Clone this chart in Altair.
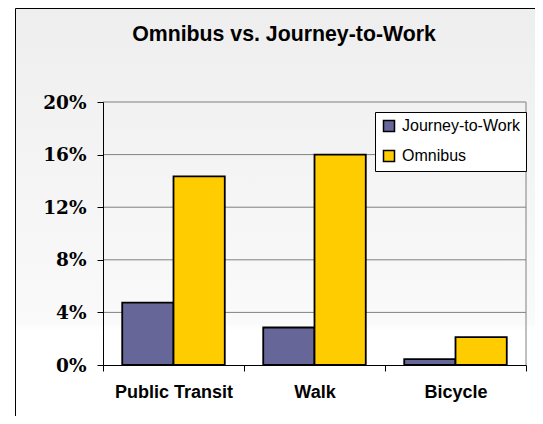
import altair as alt
import pandas as pd

title_text = "Omnibus vs. Journey-to-Work"
categories = ["Public Transit", "Walk", "Bicycle"]
series = ["Journey-to-Work", "Omnibus"]
journey = [4.75, 2.85, 0.45]
omnibus = [14.35, 16.0, 2.12]
colors = ["#666699", "#FFCC00"]
yticks = [0, 4, 8, 12, 16, 20]
grid_ticks = [4, 8, 12, 16, 20]

rows = []
for c, j, o in zip(categories, journey, omnibus):
    rows.append({"category": c, "series": series[0], "value": j})
    rows.append({"category": c, "series": series[1], "value": o})
df = pd.DataFrame(rows)

W, H = 423, 263

background = alt.Chart(pd.DataFrame({"a": [0]})).mark_rect(
    stroke="black",
    strokeWidth=1,
    color=alt.Gradient(
        gradient="linear",
        x1=0, x2=0, y1=0, y2=1,
        stops=[
            alt.GradientStop(color="#eeeeee", offset=0),
            alt.GradientStop(color="#fafafa", offset=0.76),
            alt.GradientStop(color="#ffffff", offset=0.78),
            alt.GradientStop(color="#ffffff", offset=1),
        ],
    ),
).encode(
    x=alt.value(-87.5), x2=alt.value(800), y=alt.value(-93.5), y2=alt.value(320)
)

title = alt.Chart(pd.DataFrame({"t": [title_text]})).mark_text(
    font="Liberation Sans",
    fontSize=21.3,
    fontWeight="bold",
    color="black",
    align="center",
    baseline="alphabetic",
).encode(text="t:N", x=alt.value(181), y=alt.value(-61))

grid = alt.Chart(pd.DataFrame({"t": grid_ticks})).mark_rule(
    color="#808080", strokeWidth=1
).encode(y=alt.Y("t:Q"))

right_edge = alt.Chart(pd.DataFrame({"a": [0]})).mark_rule(
    color="#808080", strokeWidth=1
).encode(x=alt.value(W), y=alt.value(0), y2=alt.value(H))

bars = alt.Chart(df).mark_bar(stroke="black", strokeWidth=1.8).encode(
    x=alt.X(
        "category:N",
        sort=categories,
        scale=alt.Scale(paddingInner=0, paddingOuter=0),
        axis=alt.Axis(
            title=None,
            labelAngle=0,
            tickBand="extent",
            domainColor="black",
            tickColor="black",
            tickSize=6,
            labelFont="Liberation Sans",
            labelFontWeight="bold",
            labelFontSize=18,
            labelColor="black",
            labelPadding=12,
            grid=False,
            zindex=1,
        ),
    ),
    xOffset=alt.XOffset(
        "series:N", sort=series, scale=alt.Scale(paddingInner=0, paddingOuter=0.375)
    ),
    y=alt.Y(
        "value:Q",
        scale=alt.Scale(domain=[0, 20], nice=False),
        axis=alt.Axis(
            title=None,
            values=yticks,
            labelExpr="datum.value + '%'",
            grid=False,
            domainColor="black",
            tickColor="black",
            tickSize=6,
            labelFont="DejaVu Serif",
            labelFontWeight="bold",
            labelFontSize=18.5,
            labelColor="black",
            labelPadding=11,
            zindex=1,
        ),
    ),
    color=alt.Color(
        "series:N",
        sort=series,
        scale=alt.Scale(domain=series, range=colors),
        legend=alt.Legend(
            title=None,
            orient="none",
            legendX=272,
            legendY=10,
            fillColor="white",
            strokeColor="black",
            padding=6,
            symbolType="square",
            symbolSize=121,
            symbolStrokeColor="black",
            symbolStrokeWidth=1.5,
            symbolOpacity=1,
            labelFont="Liberation Sans",
            labelFontSize=16,
            labelColor="black",
            labelOffset=5,
            rowPadding=12,
        ),
    ),
)

chart = alt.layer(background, title, grid, right_edge, bars).properties(
    width=W,
    height=H,
    autosize=alt.AutoSizeParams(type="none"),
    padding={"left": 95, "top": 94, "right": 9, "bottom": 51},
).configure_view(stroke=None)

chart.save("out.html", embed_options={"renderer": "svg", "actions": False})
